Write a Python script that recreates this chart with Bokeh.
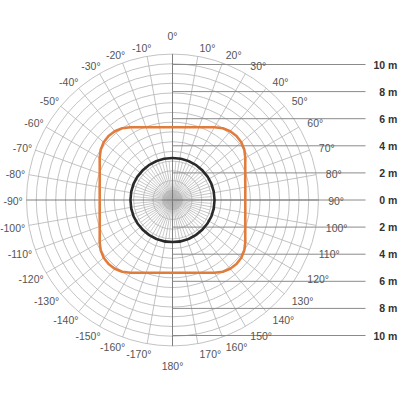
import math
from bokeh.plotting import figure
from bokeh.models import Range1d, ColumnDataSource
from bokeh.embed import file_html
from bokeh.resources import INLINE
from bokeh.core.properties import value

# ---------------- data ----------------
ring_values = list(range(1, 16))                     # polar rings (grid units)
spoke_angles = list(range(-170, 190, 10))            # every 10 degrees, 0 = top, clockwise
angle_labels = [f"{a}°" for a in spoke_angles]
fine_spokes = list(range(-175, 180, 10))             # 5-degree inner spokes
finer_spokes = [a + 2.5 for a in range(-180, 180, 5)]
height_values = [10, 8, 6, 4, 2, 0, -2, -4, -6, -8, -10]
height_labels = ["10 m", "8 m", "6 m", "4 m", "2 m", "0 m", "2 m", "4 m", "6 m", "8 m", "10 m"]

black_radius = 4.32

orange_angles = list(range(0, 360, 5))
orange_r = [7.48, 7.51, 7.60, 7.74, 7.96, 8.25, 8.64, 9.01, 9.23, 9.30, 9.23, 9.01, 8.64, 8.25, 7.96, 7.74, 7.60, 7.51,
            7.48, 7.51, 7.60, 7.74, 7.96, 8.25, 8.64, 9.01, 9.23, 9.30, 9.23, 9.01, 8.64, 8.25, 7.96, 7.74, 7.60, 7.51,
            7.48, 7.51, 7.60, 7.74, 7.96, 8.25, 8.64, 9.01, 9.23, 9.30, 9.23, 9.01, 8.64, 8.25, 7.96, 7.74, 7.60, 7.51,
            7.48, 7.51, 7.60, 7.74, 7.96, 8.25, 8.64, 9.01, 9.23, 9.30, 9.23, 9.01, 8.64, 8.25, 7.96, 7.74, 7.60, 7.51]

# ---------------- layout ----------------
W, H = 398, 390
cx_px, cy_px = 172.0, 199.5
px_per_unit = 9.73
px_per_m = 13.55
R_OUT = 15
line_end = 19.84
label_x = 23.12

def pol(r, a):
    t = math.radians(a)
    return r * math.sin(t), r * math.cos(t)

p = figure(width=W, height=H, output_backend="svg", toolbar_location=None,
           x_range=Range1d(-cx_px / px_per_unit, (W - cx_px) / px_per_unit),
           y_range=Range1d(-(H - cy_px) / px_per_unit, cy_px / px_per_unit),
           min_border=0, outline_line_color=None)
p.extra_y_ranges = {"m": Range1d(-(H - cy_px) / px_per_m, cy_px / px_per_m)}
p.xaxis.visible = False
p.yaxis.visible = False
p.grid.visible = False
p.background_fill_color = "white"
p.border_fill_color = "white"

grid_col = "#b4b4b4"

# rings
p.circle(x=[0] * len(ring_values), y=[0] * len(ring_values), radius=ring_values,
         fill_color=None, line_color=grid_col, line_width=0.8)

# spokes
def spoke_lines(angles, r0, r1):
    xs, ys = [], []
    for a in angles:
        x0, y0 = pol(r0, a)
        x1, y1 = pol(r1, a)
        xs.append([x0, x1]); ys.append([y0, y1])
    return xs, ys

xs, ys = spoke_lines(finer_spokes, 0, 1)
p.multi_line(xs, ys, line_color=grid_col, line_width=0.6)
xs, ys = spoke_lines(fine_spokes, 0, 4)
p.multi_line(xs, ys, line_color=grid_col, line_width=0.7)
minor = [a for a in spoke_angles if a % 90 != 0]
xs, ys = spoke_lines(minor, 0, R_OUT)
p.multi_line(xs, ys, line_color=grid_col, line_width=0.8)
major = [a for a in spoke_angles if a % 90 == 0]
xs, ys = spoke_lines(major, 0, R_OUT)
p.multi_line(xs, ys, line_color="#707070", line_width=0.9)

# height lines (meter scale)
p.segment(x0=[0] * len(height_values), y0=height_values, x1=[line_end] * len(height_values), y1=height_values,
          y_range_name="m", line_color="#8a8a8a", line_width=1)
p.text(x=[label_x] * len(height_values), y=height_values, text=height_labels, y_range_name="m",
       text_align="right", text_baseline="middle", text_font=value("Liberation Sans"),
       text_font_style="bold", text_font_size="10.5px", text_color="#333333")

# curves
ox, oy = [], []
for a, r in zip(orange_angles + orange_angles[:1], orange_r + orange_r[:1]):
    x, y = pol(r, a)
    ox.append(x); oy.append(y)
p.line(ox, oy, line_color="#e07c3c", line_width=2.6)
p.circle(x=[0], y=[0], radius=black_radius, fill_color=None, line_color="#2a2a2a", line_width=2.6)

# angle labels
lx, ly, la, lxo = [], [], [], []
for a in spoke_angles:
    if a in (0, 180):
        x, y = pol(17.0, a); al = "center"; xo = 0
    elif a > 0:
        x, y = pol(16.0, a); al = "left"; xo = 0
    else:
        x, y = pol(16.0, a); al = "right"; xo = 6
    lx.append(x); ly.append(y); la.append(al); lxo.append(xo)
src = ColumnDataSource(dict(x=lx, y=ly, text=angle_labels, align=la, xo=lxo))
p.text(x="x", y="y", text="text", source=src, text_align="align", x_offset="xo", y_offset=1,
       text_baseline="middle", text_font=value("Liberation Sans"), text_font_size="10.5px",
       text_color="#555555")

open("out.html", "w").write(file_html(p, INLINE))
